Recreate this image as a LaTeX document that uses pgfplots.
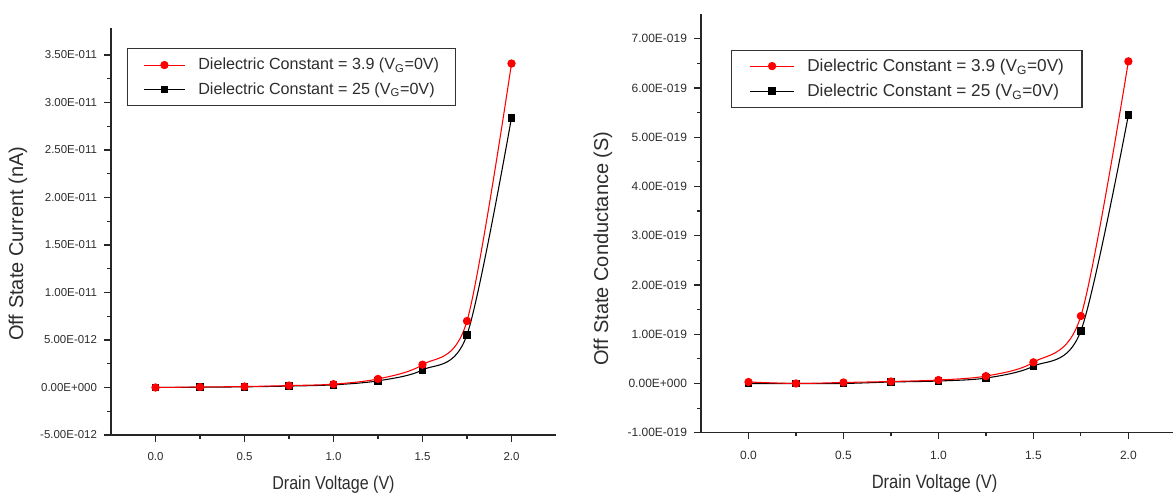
\documentclass[border=0pt]{standalone}
\usepackage{fontspec}
\setmainfont{Liberation Sans}
\usepackage{graphicx}
\usepackage{pgfplots}
\pgfplotsset{compat=1.18}
\definecolor{txt}{RGB}{45,45,45}
\pgfplotsset{
  base/.style={
    scale only axis,
    axis lines=left,
    axis line style={-, line width=0.9pt, black!85},
    tick align=outside,
    major tick length=5pt,
    minor tick length=2.8pt,
    minor x tick num=1,
    minor y tick num=1,
    every tick/.style={line width=0.9pt, black!85},
    scaled y ticks=false,
    scaled x ticks=false,
    xmin=-0.25,
    xtick={0,0.5,1,1.5,2},
    xticklabels={0.0,0.5,1.0,1.5,2.0},
    ticklabel style={text=txt},
    label style={text=txt},
    reverse legend,
    legend cell align=left,
  },
  redser/.style={red, line width=0.8pt, smooth, tension=0.5, mark=*, mark size=2.7pt, mark options={solid, fill=red, draw=red}},
  blkser/.style={black, line width=0.8pt, smooth, tension=0.5, mark=square*, mark size=2.5pt, mark options={solid, fill=black, draw=black}},
}
\begin{document}
\begin{tikzpicture}[x=1pt,y=1pt]
\useasboundingbox (0,0) rectangle (879.75,371.25);
% ---------- left panel ----------
\begin{axis}[base,
  at={(83.25pt,45pt)}, anchor=south west,
  width=333.75pt, height=305.25pt,
  xmax=2.25,
  ymin=-5e-12, ymax=3.784e-11,
  ytick={-5e-12,0,5e-12,1e-11,1.5e-11,2e-11,2.5e-11,3e-11,3.5e-11},
  yticklabels={-5.00E-012,0.00E+000,5.00E-012,1.00E-011,1.50E-011,2.00E-011,2.50E-011,3.00E-011,3.50E-011},
  yticklabel style={font=\fontsize{8.6}{10}\selectfont, xshift=-2pt},
  xticklabel style={font=\fontsize{8.6}{10}\selectfont, yshift=-4.5pt},
  xlabel={\scalebox{0.86}[1]{Drain Voltage (V)}},
  ylabel={Off State Current (nA)},
  xlabel style={at={(axis description cs:0.5,-0.122)}, anchor=center, font=\fontsize{14}{16}\selectfont},
  ylabel style={at={(axis description cs:-0.209,0.47)}, anchor=center, rotate=0, font=\fontsize{15}{17}\selectfont},
  legend image code/.code={\draw[mark repeat=2,mark phase=2,#1] plot coordinates {(0pt,0pt) (15.5pt,0pt) (31pt,0pt)};},
  legend style={at={(rel axis cs:0.0353,0.950)}, anchor=north west, draw=black!80, line width=0.8pt,
    font=\fontsize{12.1}{14}\selectfont, text=txt, inner xsep=12pt, inner ysep=7pt,
    nodes={inner sep=0pt}, column sep=9.5pt, row sep=8pt},
]
\addplot[blkser] coordinates {(0,0) (0.25,0.03e-12) (0.5,0.07e-12) (0.75,0.15e-12) (1.0,0.28e-12) (1.25,0.7e-12) (1.5,1.85e-12) (1.75,5.55e-12) (2.0,2.84e-11)};
\addlegendentry{Dielectric Constant = 25 (V\textsubscript{G}=0V)}
\addplot[redser] coordinates {(0,0) (0.25,0.05e-12) (0.5,0.1e-12) (0.75,0.2e-12) (1.0,0.35e-12) (1.25,0.9e-12) (1.5,2.4e-12) (1.75,7.0e-12) (2.0,3.41e-11)};
\addlegendentry{Dielectric Constant = 3.9 (V\textsubscript{G}=0V)\hspace{7pt}}
\end{axis}
% ---------- right panel ----------
\begin{axis}[base,
  at={(525.75pt,46.7pt)}, anchor=south west,
  width=354pt, height=314pt,
  xmax=2.235,
  ymin=-1e-19, ymax=7.5e-19,
  ytick={-1e-19,0,1e-19,2e-19,3e-19,4e-19,5e-19,6e-19,7e-19},
  yticklabels={-1.00E-019,0.00E+000,1.00E-019,2.00E-019,3.00E-019,4.00E-019,5.00E-019,6.00E-019,7.00E-019},
  yticklabel style={font=\fontsize{9}{10}\selectfont, xshift=-2pt},
  xticklabel style={font=\fontsize{9}{10}\selectfont, yshift=-5pt},
  xlabel={\scalebox{0.86}[1]{Drain Voltage (V)}},
  ylabel={Off State Conductance (S)},
  xlabel style={at={(axis description cs:0.495,-0.122)}, anchor=center, font=\fontsize{14.4}{16}\selectfont},
  ylabel style={at={(axis description cs:-0.2076,0.44)}, anchor=center, rotate=0, font=\fontsize{15}{17}\selectfont},
  legend image code/.code={\draw[mark repeat=2,mark phase=2,#1] plot coordinates {(0pt,0pt) (16.5pt,0pt) (33pt,0pt)};},
  legend style={at={(rel axis cs:0.0636,0.915)}, anchor=north west, draw=black!80, line width=0.8pt,
    font=\fontsize{12.9}{15}\selectfont, text=txt, inner xsep=13.5pt, inner ysep=6.5pt,
    nodes={inner sep=0pt}, column sep=9.5pt, row sep=8pt},
]
\addplot[blkser] coordinates {(0,0.0) (0.25,0.0) (0.5,0.0) (0.75,0.03e-19) (1.0,0.05e-19) (1.25,0.11e-19) (1.5,0.35e-19) (1.75,1.07e-19) (2.0,5.45e-19)};
\addlegendentry{Dielectric Constant = 25 (V\textsubscript{G}=0V)}
\addplot[redser] coordinates {(0,0.03e-19) (0.25,0.0) (0.5,0.02e-19) (0.75,0.04e-19) (1.0,0.07e-19) (1.25,0.15e-19) (1.5,0.43e-19) (1.75,1.37e-19) (2.0,6.54e-19)};
\addlegendentry{Dielectric Constant = 3.9 (V\textsubscript{G}=0V)\hspace{7pt}}
\end{axis}
\end{tikzpicture}
\end{document}
